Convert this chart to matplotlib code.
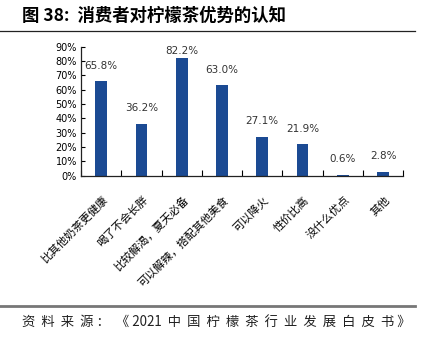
import numpy as np
import matplotlib
matplotlib.use("Agg")
import matplotlib.pyplot as plt
from matplotlib.lines import Line2D

plt.rcParams['font.family'] = ['Noto Sans CJK SC', 'DejaVu Sans']

# data
categories = ['比其他奶茶更健康', '喝了不会长胖', '比较解渴，夏天必备', '可以解辣，搭配其他美食',
              '可以降火', '性价比高', '没什么优点', '其他']
shares = [65.8, 36.2, 82.2, 63.0, 27.1, 21.9, 0.6, 2.8]
y_ticks = [0, 10, 20, 30, 40, 50, 60, 70, 80, 90]

bar_color = '#1B4A93'

fig = plt.figure(figsize=(4.32, 3.4), dpi=100)
ax = fig.add_axes([0.1875, 0.483, 0.746, 0.38])

x = np.arange(len(categories))
ax.bar(x, shares, width=0.29, color=bar_color)

for xi, v in zip(x, shares):
    ax.text(xi, min(v + 11, 87), f'{v:.1f}%', ha='center', va='center', fontsize=7.5,
            color='#333333', family=['DejaVu Sans'])

ax.set_xlim(-0.5, len(categories) - 0.5)
ax.set_ylim(0, 90)
ax.set_yticks(y_ticks)
ax.set_yticklabels([f'{t}%' for t in y_ticks], fontsize=7, family=['DejaVu Sans'])

# ticks at category boundaries, labels at centers
ax.set_xticks(np.arange(len(categories) + 1) - 0.5)
ax.set_xticklabels([])
ax.set_xticks(x + 0.12, minor=True)
ax.set_xticklabels(categories, minor=True, rotation=45, ha='right', va='center',
                   rotation_mode='anchor', fontsize=8)
ax.tick_params(axis='x', which='major', direction='in', length=4, width=0.8)
ax.tick_params(axis='x', which='minor', length=0, pad=16)
ax.tick_params(axis='y', direction='in', length=3, width=0.8, pad=3)

for s in ['top', 'right']:
    ax.spines[s].set_visible(False)
for s in ['left', 'bottom']:
    ax.spines[s].set_linewidth(0.9)
    ax.spines[s].set_color('#222222')

# header and footer
fig.text(0.051, 0.952, '图 38:  消费者对柠檬茶优势的认知', fontsize=12.5,
         fontweight='bold', va='center', ha='left')
fig.add_artist(Line2D([0, 0.96], [0.909, 0.909], color='#222222', lw=0.9))
fig.add_artist(Line2D([0, 0.96], [0.1, 0.1], color='#777777', lw=2))
fig.text(0.051, 0.053, '资  料  来  源 ：  《 2021  中  国  柠  檬  茶  行  业  发  展  白  皮  书 》',
         fontsize=9.6, va='center', ha='left', color='#222222')

fig.savefig('out.png', dpi=100)
